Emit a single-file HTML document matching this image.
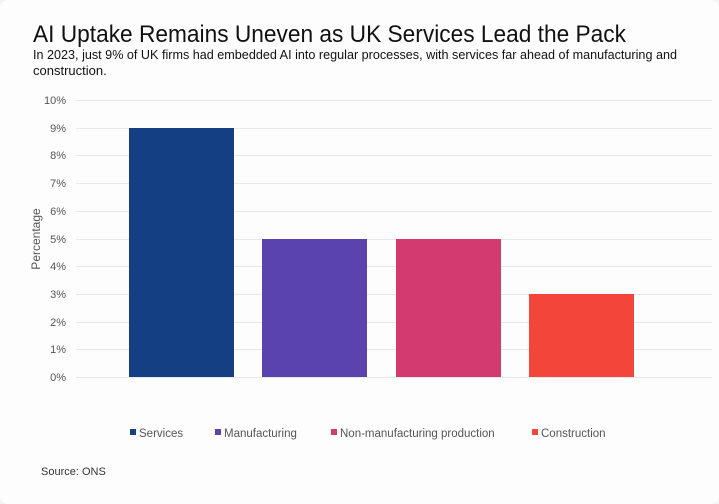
<!DOCTYPE html>
<html><head><style>
body{margin:0;background:#f4f4f4;}
.card{position:absolute;left:0;top:0;width:719px;height:504px;background:#fdfdfd;border-radius:8px;font-family:"Liberation Sans",sans-serif;}
</style></head><body><div class="card">
<svg width="719" height="504" style="position:absolute;left:0;top:0" font-family="Liberation Sans, sans-serif">
<text x="33" y="42" font-size="24" fill="#111" textLength="593" lengthAdjust="spacingAndGlyphs" font-weight="500">AI Uptake Remains Uneven as UK Services Lead the Pack</text>
<text x="33" y="59" font-size="13" fill="#111" textLength="644" lengthAdjust="spacingAndGlyphs">In 2023, just 9% of UK firms had embedded AI into regular processes, with services far ahead of manufacturing and</text>
<text x="33" y="75" font-size="13" fill="#111">construction.</text>
<g stroke="#e8e8e8" stroke-width="1">
<line x1="76" x2="712" y1="100.5" y2="100.5"/><line x1="76" x2="712" y1="128.5" y2="128.5"/><line x1="76" x2="712" y1="155.5" y2="155.5"/><line x1="76" x2="712" y1="183.5" y2="183.5"/><line x1="76" x2="712" y1="211.5" y2="211.5"/><line x1="76" x2="712" y1="239.5" y2="239.5"/><line x1="76" x2="712" y1="266.5" y2="266.5"/><line x1="76" x2="712" y1="294.5" y2="294.5"/><line x1="76" x2="712" y1="322.5" y2="322.5"/><line x1="76" x2="712" y1="349.5" y2="349.5"/><line x1="76" x2="712" y1="377.5" y2="377.5"/>
</g>
<g font-size="11" fill="#555" text-anchor="end">
<text x="66" y="104">10%</text><text x="66" y="132">9%</text><text x="66" y="159">8%</text><text x="66" y="187">7%</text><text x="66" y="215">6%</text><text x="66" y="243">5%</text><text x="66" y="270">4%</text><text x="66" y="298">3%</text><text x="66" y="326">2%</text><text x="66" y="353">1%</text><text x="66" y="381">0%</text>
</g>
<text transform="translate(40,239) rotate(-90)" font-size="12" fill="#555" text-anchor="middle">Percentage</text>
<rect x="129" y="128" width="105" height="249" fill="#143f82"/>
<rect x="262" y="239" width="105" height="138" fill="#5b43ad"/>
<rect x="396" y="239" width="105" height="138" fill="#d33a6f"/>
<rect x="529" y="294" width="105" height="83" fill="#f4453a"/>
<g font-size="11.5" fill="#555">
<rect x="130" y="429" width="6" height="6" fill="#143f82"/><text x="139" y="437">Services</text>
<rect x="215" y="429" width="6" height="6" fill="#5b43ad"/><text x="224" y="437">Manufacturing</text>
<rect x="331" y="429" width="6" height="6" fill="#d33a6f"/><text x="340" y="437">Non-manufacturing production</text>
<rect x="532" y="429" width="6" height="6" fill="#f4453a"/><text x="541" y="437">Construction</text>
</g>
<text x="41" y="475" font-size="11" fill="#333">Source: ONS</text>
</svg></div></body></html>
